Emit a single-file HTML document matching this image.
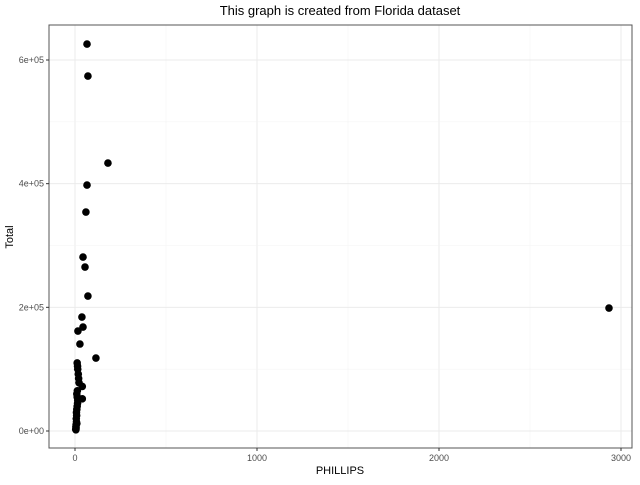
<!DOCTYPE html>
<html><head><meta charset="utf-8"><style>body{margin:0;background:#fff}svg{font-family:"Liberation Sans",sans-serif}</style></head>
<body>
<svg id="chart" width="640" height="480">
<text x="340" y="15" text-anchor="middle" font-size="13">This graph is created from Florida dataset</text>
<g id="grid"></g>
<g id="pts"></g>
<rect x="49" y="25" width="583" height="423" fill="none" stroke="#555" stroke-width="1"/>
<g id="axes"></g>
<text x="340" y="474" text-anchor="middle" font-size="11">PHILLIPS</text>
<text x="13" y="237" text-anchor="middle" font-size="11" transform="rotate(-90 13 237)">Total</text>
</svg>
<script>
const xs=[66,71,181,66,60,44,55,71,38,44,16,27,115,2934,12,14,15,18,20,22,40,13,10,12,40,15,14,12,10,8,9,7,8,10,6,5,6,4,5];
const ys=[625700,574000,433300,397700,354100,281300,265200,218300,184300,168100,161700,140700,118000,198900,110000,105000,100000,92000,85000,78000,72000,65000,60000,55000,52000,50000,45000,40000,35000,30000,25000,20000,15000,12000,10000,7000,5000,3000,2000];
const xTicks=[0,1000,2000,3000];
const yTicks=[0,200000,400000,600000];
const yLabels=["0e+00","2e+05","4e+05","6e+05"];
const ns="http://www.w3.org/2000/svg";
const X=v=>75+v*0.182, Y=v=>431-v*(371/600000);
const g=document.getElementById('grid'),p=document.getElementById('pts'),a=document.getElementById('axes');
function mk(par,t,at){const e=document.createElementNS(ns,t);for(const k in at)e.setAttribute(k,at[k]);par.appendChild(e);return e;}
for(let i=0;i<xTicks.length;i++){
 const x=X(xTicks[i]);
 const l=mk(g,'line',{x1:x,x2:x,y1:25,y2:448,stroke:'#ebebeb','stroke-width':1});
 
 
 if(i<xTicks.length-1){const m=mk(g,'line',{x1:X(xTicks[i]+500),x2:X(xTicks[i]+500),y1:25,y2:448,stroke:'#f4f4f4','stroke-width':0.6});
 
 }
 mk(a,'line',{x1:x,x2:x,y1:448,y2:451,stroke:'#333'});
 const t=mk(a,'text',{x:x,y:461,'text-anchor':'middle','font-size':9,fill:'#4d4d4d'});t.textContent=xTicks[i];
 
 
}
for(let i=0;i<yTicks.length;i++){
 const y=Y(yTicks[i]);
 const l=mk(g,'line',{x1:49,x2:632,y1:y,y2:y,stroke:'#ebebeb','stroke-width':1});
 
 
 const m=mk(g,'line',{x1:49,x2:632,y1:Y(yTicks[i]+100000),y2:Y(yTicks[i]+100000),stroke:'#f4f4f4','stroke-width':0.6});
 
 
 mk(a,'line',{x1:46,x2:49,y1:y,y2:y,stroke:'#333'});
 const t=mk(a,'text',{x:44,y:y+3,'text-anchor':'end','font-size':9,fill:'#4d4d4d'});t.textContent=yLabels[i];
 
 
}
for(let i=0;i<xs.length;i++){
 const c=mk(p,'circle',{cx:X(xs[i]),cy:Y(ys[i]),r:3.8,fill:'#000'});
 
 
}
</script>
</body></html>
